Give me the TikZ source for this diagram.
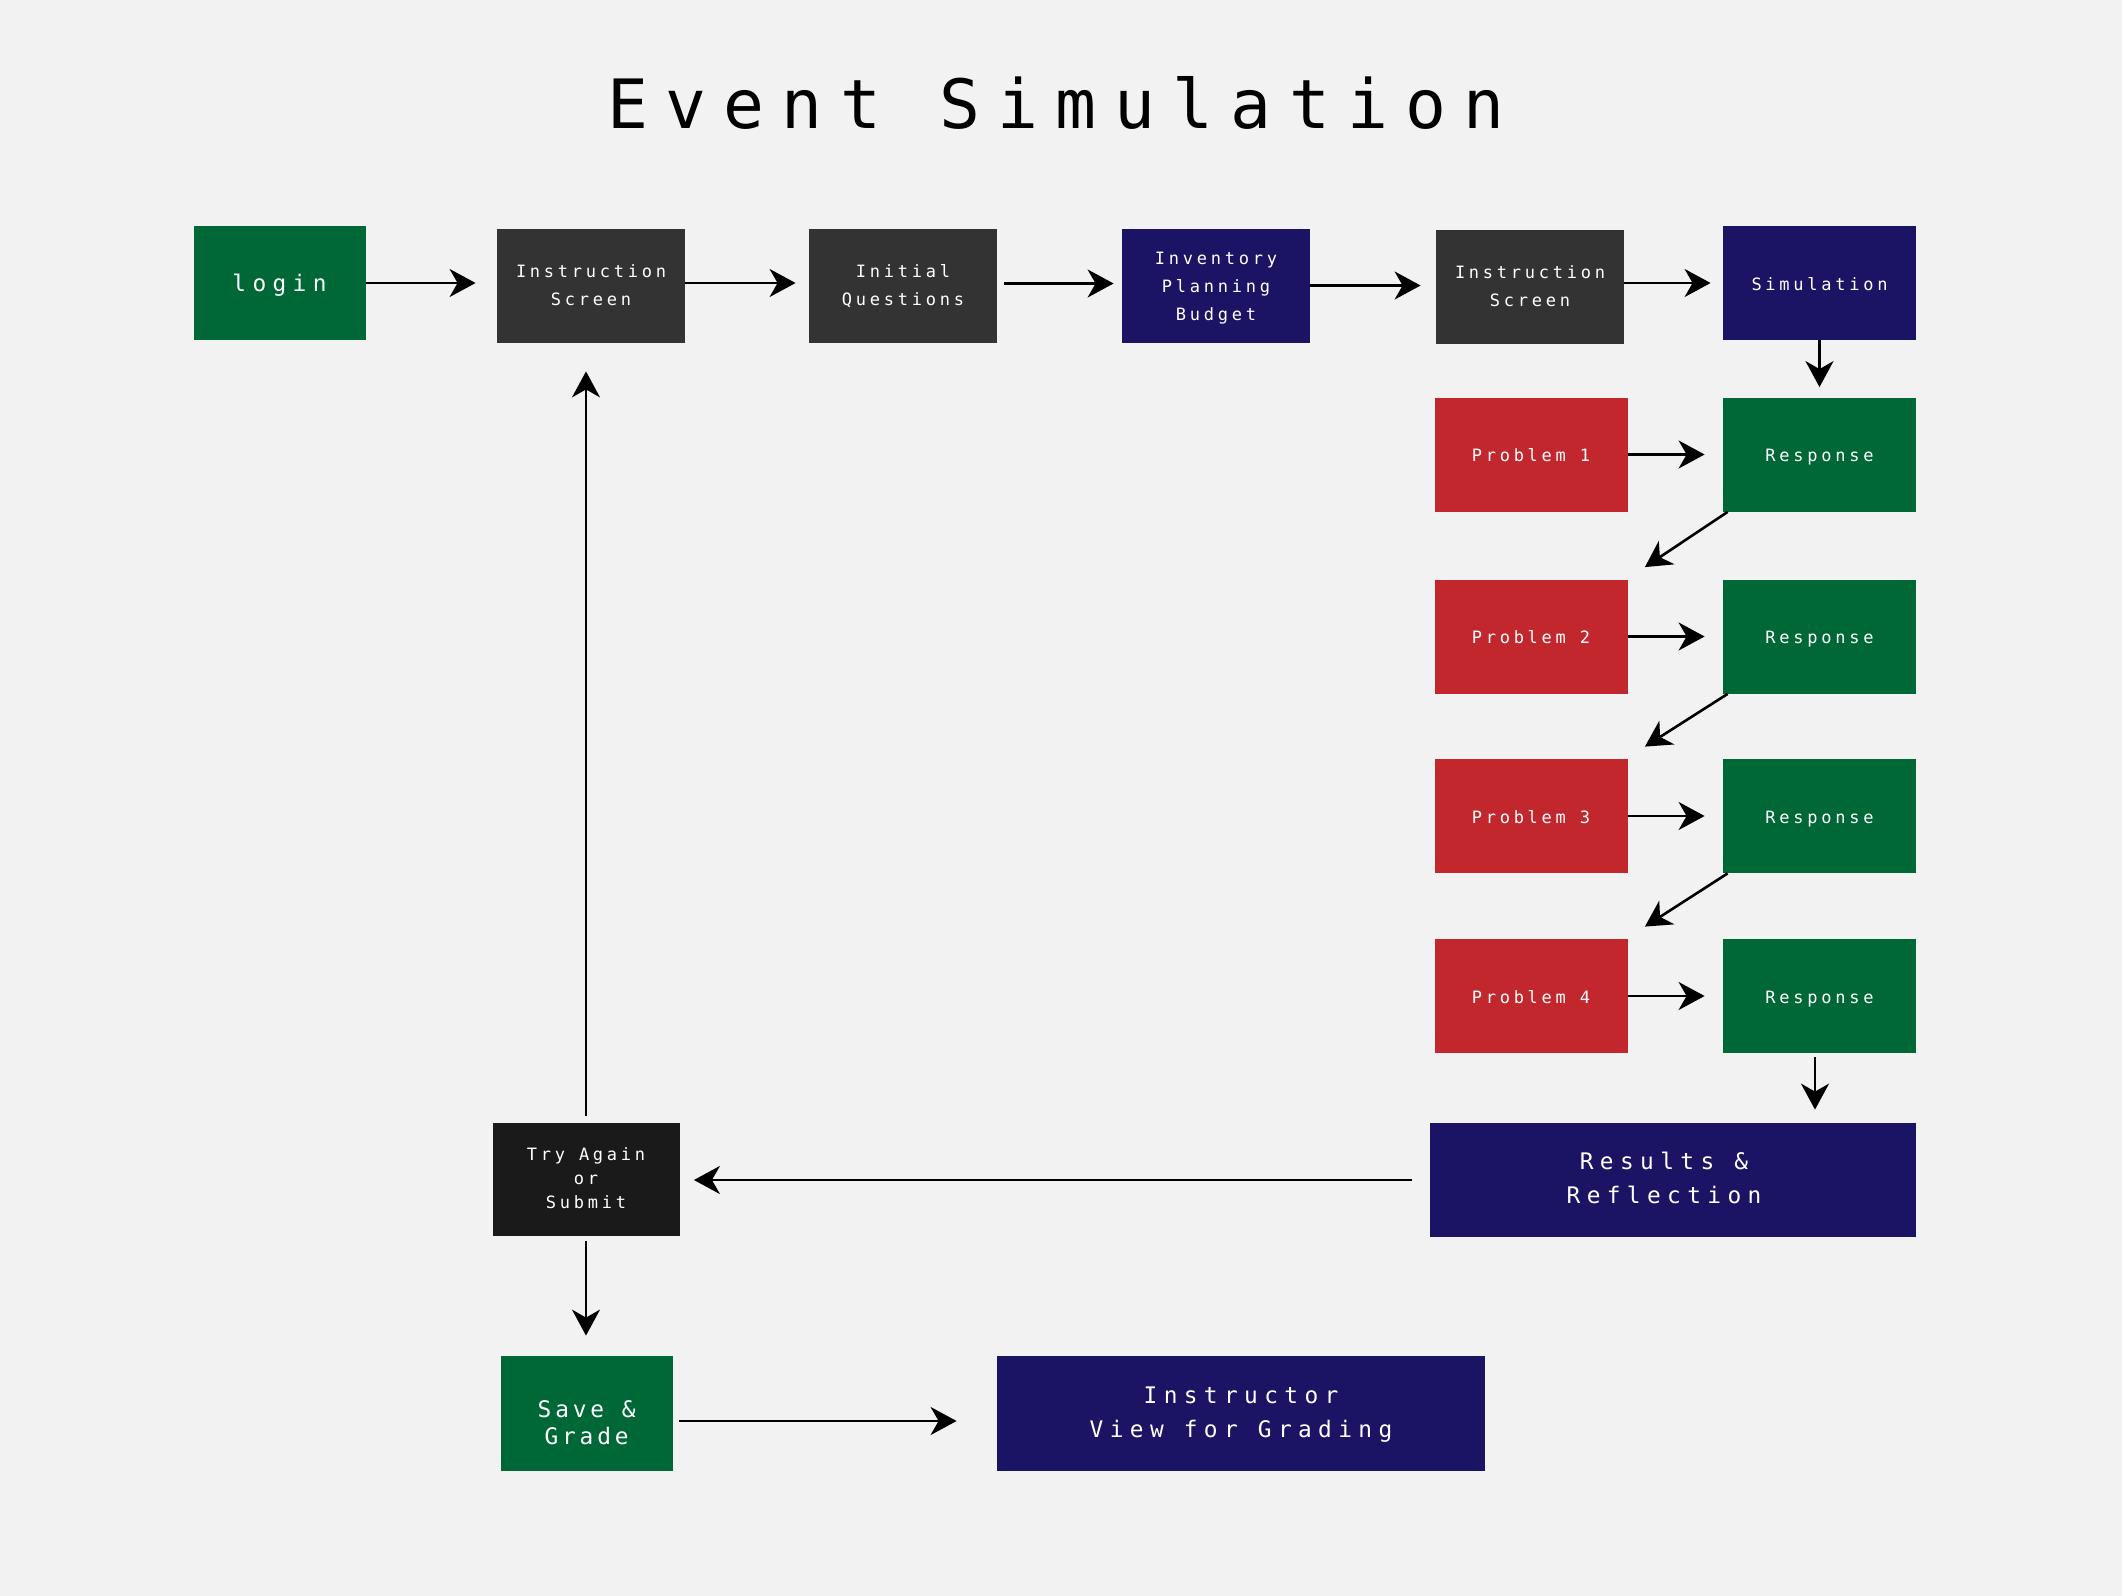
\documentclass[tikz,border=0pt]{standalone}
\usepackage{fontspec}
\usetikzlibrary{arrows.meta,calc}
\newfontfamily\pixS[LetterSpace=22]{DejaVu Sans Mono}
\newfontfamily\pixL[LetterSpace=28]{DejaVu Sans Mono}
\newfontfamily\pixG[LetterSpace=17]{DejaVu Sans Mono}
\newfontfamily\pixT[LetterSpace=25.5]{DejaVu Sans Mono}
\definecolor{bgc}{HTML}{F2F2F2}
\definecolor{cgreen}{HTML}{006837}
\definecolor{cgray}{HTML}{333333}
\definecolor{cnavy}{HTML}{1B1464}
\definecolor{cred}{HTML}{C1272D}
\definecolor{cblack}{HTML}{1A1A1A}
\newcommand\tlines[2][0pt]{\begin{tabular}{@{}c@{}}\rule{0pt}{\dimexpr0.7\baselineskip+2\dimexpr#1\relax\relax}#2\end{tabular}}
\begin{document}
\begin{tikzpicture}[x=0.5pt,y=-0.5pt,
  box/.style={inner sep=0pt, text=white, minimum width=94pt, minimum height=57pt},
  tdown/.style={execute at begin node={\rule{0pt}{\dimexpr\fontcharht\font108+2\dimexpr#1\relax\relax}}},
  small/.style={font=\pixS\fontsize{8.5}{14}\selectfont},
  large/.style={font=\pixL\fontsize{11.4}{17}\selectfont},
  arr/.style={-{Stealth[length=13pt,width=14pt,inset=4pt]}, line width=1.3pt},
  thinarr/.style={arr, line width=1pt}]
\fill[bgc] (0,0) rectangle (2122,1596);
\useasboundingbox (0,0) rectangle (2122,1596);

\node[font=\pixT\fontsize{34}{40}\selectfont, anchor=base] (title) at (1056,128) {Event Simulation};

\node[box,large,fill=cgreen,minimum width=86pt,tdown=1.35pt] (login) at (279.5,283) {login};
\node[box,small,fill=cgray] (is1) at (591,286) {\tlines[2.1pt]{Instruction\\Screen}};
\node[box,small,fill=cgray] (iq) at (903,285.5) {\tlines[2.1pt]{Initial\\Questions}};
\node[box,small,fill=cnavy] (inv) at (1216,285.5) {\tlines[5.8pt]{Inventory\\Planning\\Budget}};
\node[box,small,fill=cgray] (is2) at (1530,287) {\tlines[1.2pt]{Instruction\\Screen}};
\node[box,small,fill=cnavy,minimum width=96.5pt,tdown=0.7pt] (sim) at (1819.5,283) {Simulation};

\foreach \i/\y in {1/454.5,2/636.5,3/816,4/996}{
  \node[box,small,fill=cred,minimum width=96.5pt,tdown=0.7pt] (p\i) at (1531,\y) {Problem \i};
  \node[box,small,fill=cgreen,minimum width=96.5pt,tdown=1.35pt] (r\i) at (1819.5,\y) {Response};
}

\node[box,large,fill=cnavy,minimum width=243pt] (res) at (1673,1180) {\tlines[2.9pt]{Results \&\hspace*{9pt}\\Reflection\hspace*{9pt}}};
\node[box,fill=cblack,font=\pixS\fontsize{8.5}{12}\selectfont,minimum width=93.5pt,minimum height=56.5pt] (try) at (586,1179.5) {\tlines[2pt]{Try Again\\or\\Submit}};
\node[box,fill=cgreen,font=\pixG\fontsize{11.4}{13.5}\selectfont,minimum width=86pt,minimum height=57.5pt] (save) at (586.6,1413.5) {\tlines[10.8pt]{Save \&\\Grade}};
\node[box,large,fill=cnavy,minimum width=244pt,minimum height=57.5pt] (instr) at (1241,1413.5) {\tlines[4.7pt]{Instructor\\View for Grading}};

\draw[arr,shorten >=10.5pt] (login.east) -- (login.east -| is1.west);
\draw[arr,shorten >=6.5pt] ([yshift=1.5pt]is1.east) -- ([yshift=1.5pt]is1.east -| iq.west);
\draw[arr,shorten <=3.5pt,shorten >=4pt] ([yshift=1pt]iq.east) -- ([yshift=1pt]iq.east -| inv.west);
\draw[arr,shorten >=7.5pt] (inv.east) -- (inv.east -| is2.west);
\draw[arr,shorten >=6pt] (sim.west -| is2.east) -- (sim.west);
\draw[arr,shorten >=5pt] (sim.south) -- (r1.north);
\foreach \i in {1,2,3,4}{
  \draw[arr,shorten >=9pt] (p\i.east) -- (r\i.west);
}
\foreach \i/\j in {1/2,2/3,3/4}{
  \draw[arr] ([xshift=2.5pt]r\i.south west) -- ($(p\j.north east)+(17,-12)$);
}
\draw[arr,shorten <=2pt,shorten >=6.5pt] ($(r4.south)+(-4.5,0)$) -- ($(r4.south |- res.north)+(-4.5,0)$);
\draw[arr,shorten <=9pt,shorten >=7pt] (res.west) -- (res.west -| try.east);
\draw[thinarr,shorten <=3.5pt,shorten >=14pt] (try.north) -- (try.north |- is1.south);
\draw[thinarr,shorten <=2.5pt,shorten >=10pt] (try.south) -- (try.south |- save.north);
\draw[arr,shorten <=3pt,shorten >=20pt] ([yshift=-3.75pt]save.east) -- ([yshift=-3.75pt]save.east -| instr.west);
\end{tikzpicture}
\end{document}
